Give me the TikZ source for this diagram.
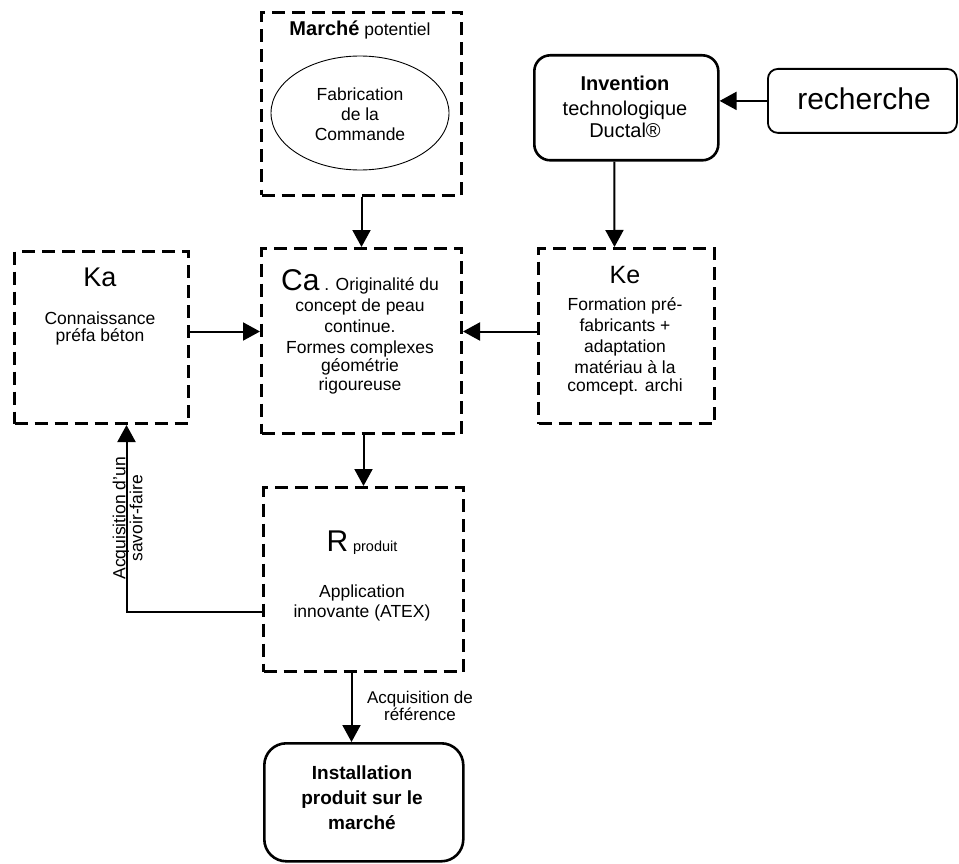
\documentclass[tikz,border=0pt]{standalone}
\usepackage{fontspec}
\setmainfont{Liberation Sans}
\usetikzlibrary{arrows.meta,shapes.geometric}
\newcommand{\fs}[2]{\fontsize{#1}{#2}\selectfont}
\begin{document}
\begin{tikzpicture}[x=1pt,y=-1pt,
  dbox/.style={draw, line width=3pt, dash pattern=on 13pt off 7pt, inner sep=0pt, anchor=north west},
  rbox/.style={draw, line width=2.6pt, rounded corners=16pt, inner sep=0pt, anchor=north west},
  arr/.style={line width=2pt, -{Triangle[length=17pt,width=18pt]}},
  txt/.style={inner sep=0pt, align=center, font=\fs{17.5}{21}}
]
\useasboundingbox (0,0) rectangle (959,864);
% boxes
\node[dbox, minimum width=200pt, minimum height=183pt] (marche) at (260,11) {};
\node[draw, ellipse, line width=0.9pt, minimum width=178pt, minimum height=114pt, inner sep=0pt] (ell) at (360,113) {};
\node[rbox, minimum width=184pt, minimum height=105pt] (inv) at (533,54) {};
\node[rbox, line width=1.8pt, rounded corners=10pt, minimum width=189pt, minimum height=64pt] (rech) at (767,68) {};
\node[dbox, minimum width=174pt, minimum height=172pt] (ka) at (13,250) {};
\node[dbox, minimum width=200pt, minimum height=185pt] (ca) at (260,247) {};
\node[dbox, minimum width=176pt, minimum height=175pt] (ke) at (537,247) {};
\node[dbox, minimum width=200pt, minimum height=184pt] (r) at (262,486) {};
\node[rbox, rounded corners=22pt, minimum width=199pt, minimum height=118pt] (inst) at (263,742) {};
% texts
\node[txt] (tmarche) at (360,30) {{\fs{20}{24}\bfseries Marché} potentiel};
\node[txt, font=\fs{17.5}{20}] (tell) at (360,114) {Fabrication\\de la\\Commande};
\node[txt, font=\fs{20}{22}] (tinv) at (625,107) {{\bfseries Invention}\\[3pt]technologique\\Ductal®};
\node[txt, font=\fs{30}{34}] (trech) at (864,99) {recherche};
\node[txt, font=\fs{27}{30}] (tka) at (100,277) {Ka};
\node[txt, font=\fs{17.5}{17}] (tka2) at (100,328) {Connaissance\\préfa béton};
\node[txt] (tca) at (360,332) {{\fs{30}{30}Ca} . Originalité du\\concept de peau\\continue.\\Formes complexes\\[-3pt]géométrie\\[-2pt]rigoureuse};
\node[txt, font=\fs{25}{28}] (tke) at (625,275) {Ke};
\node[txt] (tke2) at (625,346) {Formation pré-\\fabricants +\\adaptation\\matériau à la\\[-3pt]comcept. archi};
\node[txt] (tr) at (362,543) {{\fs{30}{30}R} {\fs{14.5}{16}produit}};
\node[txt, font=\fs{17.5}{20}] (tr2) at (362,603) {Application\\innovante (ATEX)};
\node[txt, font=\fs{17}{17}] (tref) at (420,706) {Acquisition de\\référence};
\node[txt, font=\fs{19}{25}\bfseries] (tinst) at (362,798) {Installation\\produit sur le\\marché};
% connectors
\draw[arr] (marche.south) -- (ca.north);
\draw[arr] (rech.west) -- (inv.east |- rech.west);
\draw[arr] ([xshift=-12pt]inv.south) -- ([xshift=-12pt]ke.north);
\draw[arr] ([yshift=6pt]ka.east) -- ([yshift=6pt]ka.east -| ca.west);
\draw[arr] ([yshift=4.5pt]ke.west) -- ([yshift=4.5pt]ke.west -| ca.east);
\draw[arr] ([xshift=2pt]ca.south) -- ([xshift=2pt]ca.south |- r.north);
\draw[arr] ([yshift=-32pt]r.west) -| ([xshift=25pt]ka.south)
  node[pos=0.75, sloped, above, inner sep=0pt, align=center, font=\fs{17.5}{17}, yshift=-17pt] (tacq) {Acquisition d'un\\savoir-faire};
\draw[arr] ([xshift=-12pt]r.south) -- ([xshift=-12pt]r.south |- inst.north);
\end{tikzpicture}
\end{document}
